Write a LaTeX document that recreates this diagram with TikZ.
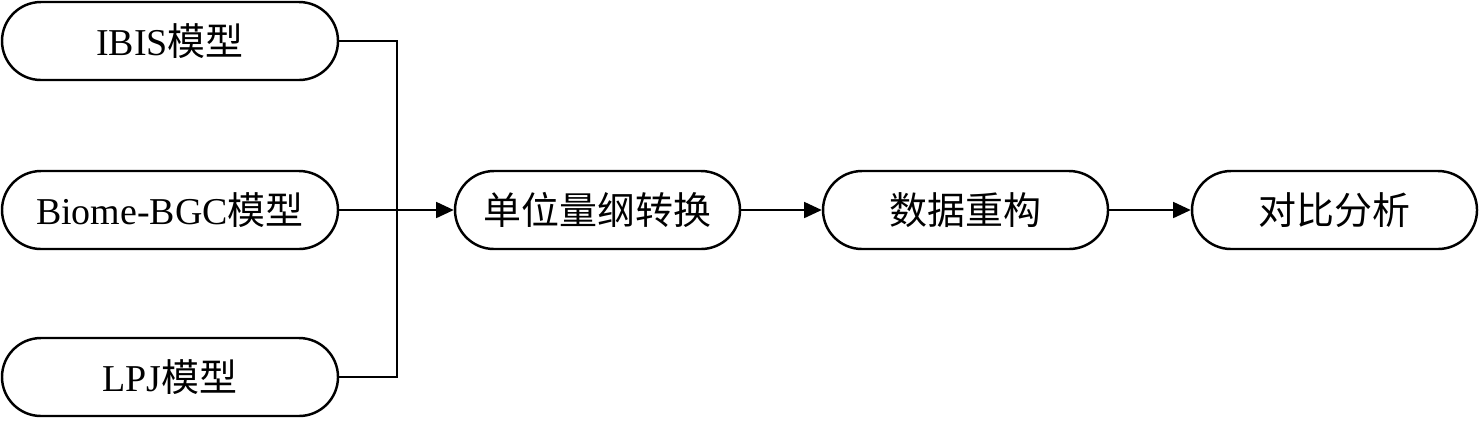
\documentclass[tikz,border=0pt]{standalone}
\usepackage{fontspec}
\setmainfont{Liberation Serif}
\newfontfamily\cjk{Noto Sans CJK SC}
\usetikzlibrary{shapes.misc}
\usetikzlibrary{arrows.meta}
\usetikzlibrary{positioning}

\begin{document}
\begin{tikzpicture}[
    model/.style={draw,line width=0.7pt,rounded rectangle,minimum width=3.36cm,minimum height=0.78cm,inner sep=0pt,font=\fontsize{10.8}{13}\selectfont},
    stage/.style={model,minimum width=2.85cm},
    link/.style={line width=0.6pt},
    flow/.style={link,-{Triangle[length=5pt,width=4.5pt]}}]
    \useasboundingbox (0,0) rectangle (14.79,4.23);

    % models on the left
    \node[model] (ibis) at (1.70,3.82) {IBIS{\cjk 模型}};
    \node[model] (biome) at (1.70,2.13) {Biome-BGC{\cjk 模型}};
    \node[model] (lpj) at (1.70,0.46) {LPJ{\cjk 模型}};

    % processing chain
    \node[stage] (unit) at (5.975,2.13) {\cjk 单位量纲转换};
    \node[stage] (rebuild) at (9.655,2.13) {\cjk 数据重构};
    \node[stage] (compare) at (13.345,2.13) {\cjk 对比分析};

    \coordinate (join) at (3.97,2.13);

    \draw[link] (ibis.east) -| (join) |- (lpj.east);
    \draw[flow] (biome.east) -- (unit.west);
    \draw[flow] (unit.east) -- (rebuild.west);
    \draw[flow] (rebuild.east) -- (compare.west);
\end{tikzpicture}
\end{document}
